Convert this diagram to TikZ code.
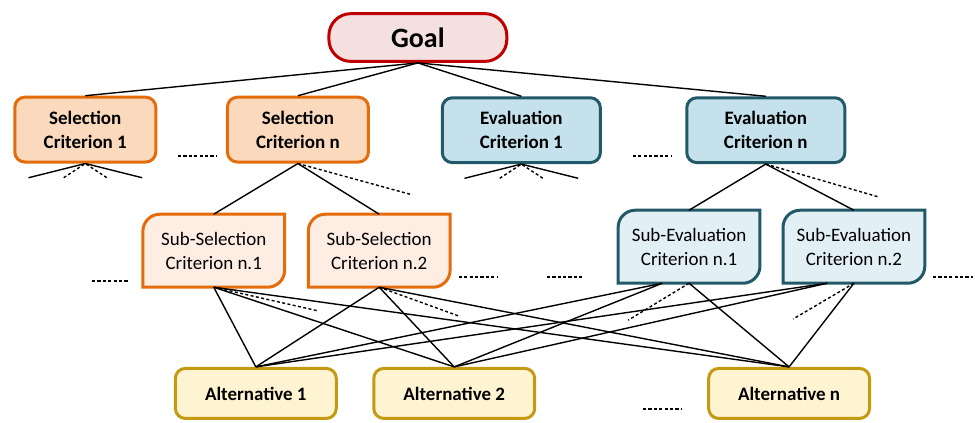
\documentclass[tikz,border=0pt]{standalone}
\usepackage{fontspec}
\setmainfont{Carlito}
\usetikzlibrary{backgrounds}

\definecolor{goalred}{HTML}{C00000}
\definecolor{goalfill}{HTML}{F4E0DF}
\definecolor{selorange}{HTML}{E46C0A}
\definecolor{selfill}{HTML}{FBD9BD}
\definecolor{subselfill}{HTML}{FDEDE2}
\definecolor{evalteal}{HTML}{215968}
\definecolor{evalfill}{HTML}{C4E1EC}
\definecolor{subevalfill}{HTML}{E2F0F6}
\definecolor{altgold}{HTML}{C39A12}
\definecolor{altfill}{HTML}{FFF4D2}

\tikzset{
  goal/.style={draw=goalred, fill=goalfill, line width=1.5pt, rounded corners=11pt,
    minimum width=3.13cm, minimum height=0.84cm, font=\fontsize{14}{16}\selectfont\bfseries},
  selcrit/.style={draw=selorange, fill=selfill, line width=1.5pt, rounded corners=5pt,
    minimum width=2.48cm, minimum height=1.14cm, align=center,
    font=\fontsize{9.5}{12}\selectfont\bfseries},
  evalcrit/.style={selcrit, draw=evalteal, fill=evalfill, minimum width=2.78cm},
  subtext/.style={minimum width=2.48cm, minimum height=1.27cm, align=center,
    font=\fontsize{9.5}{12}\selectfont},
  subsel/.style={draw=selorange, fill=subselfill, line width=1.5pt},
  subeval/.style={draw=evalteal, fill=subevalfill, line width=1.5pt},
  alt/.style={draw=altgold, fill=altfill, line width=1.5pt, rounded corners=5pt,
    minimum width=2.83cm, minimum height=0.88cm, font=\fontsize{9.5}{12}\selectfont\bfseries},
  link/.style={line width=0.7pt},
  dotlink/.style={line width=0.7pt, dash pattern=on 1.5pt off 1.2pt},
  gapdots/.style={line width=0.9pt, dash pattern=on 1.6pt off 1.1pt},
}

\begin{document}
\begin{tikzpicture}
	\useasboundingbox (0,0) rectangle (17.15,7.44);
	% Goal
	\node[goal] (goal) at (7.35,6.78) {Goal};
	% Criteria
	\node[selcrit] (sc1) at (1.50,5.16) {Selection\\Criterion 1};
	\node[selcrit] (scn) at (5.24,5.16) {Selection\\Criterion n};
	\node[evalcrit] (ec1) at (9.17,5.15) {Evaluation\\Criterion 1};
	\node[evalcrit] (ecn) at (13.47,5.15) {Evaluation\\Criterion n};
	% Sub-criteria
	\node[subtext] (ss1) at (3.76,3.03) {Sub-Selection\\Criterion n.1};
	\node[subtext] (ss2) at (6.67,3.03) {Sub-Selection\\Criterion n.2};
	\node[subtext] (se1) at (12.12,3.10) {Sub-Evaluation\\Criterion n.1};
	\node[subtext] (se2) at (15.02,3.10) {Sub-Evaluation\\Criterion n.2};
	\begin{scope}[on background layer]
		\foreach \n/\s in {ss1/subsel,ss2/subsel,se1/subeval,se2/subeval}
			\draw[\s] (\n.north east) -- ([yshift=0.3cm]\n.south east)
				arc[start angle=0,end angle=-90,radius=0.3cm] -- (\n.south west)
				-- ([yshift=-0.3cm]\n.north west)
				arc[start angle=180,end angle=90,radius=0.3cm] -- cycle;
	\end{scope}
	% Alternatives
	\node[alt] (alt1) at (4.50,0.52) {Alternative 1};
	\node[alt] (alt2) at (7.99,0.52) {Alternative 2};
	\node[alt] (altn) at (13.88,0.52) {Alternative n};

	% Links
	\foreach \n in {sc1,scn,ec1,ecn}
		\draw[link] (goal.south) -- (\n.north);
	\draw[link] (ss1.north) -- (scn.south) -- (ss2.north);
	\draw[link] (se1.north) -- (ecn.south) -- (se2.north);
	\foreach \n in {sc1,ec1} {
		\coordinate (\n-ll) at ([shift={(-1.0,-0.25)}]\n.south);
		\coordinate (\n-rr) at ([shift={(1.0,-0.25)}]\n.south);
		\coordinate (\n-l) at ([shift={(-0.38,-0.25)}]\n.south);
		\coordinate (\n-r) at ([shift={(0.38,-0.25)}]\n.south);
		\draw[link] (\n-ll) -- (\n.south) -- (\n-rr);
		\draw[dotlink] (\n-l) -- (\n.south) -- (\n-r);
	}
	\coordinate (scn-d) at ([shift={(2.01,-0.55)}]scn.south);
	\coordinate (ecn-d) at ([shift={(1.99,-0.58)}]ecn.south);
	\draw[dotlink] (scn.south) -- (scn-d);
	\draw[dotlink] (ecn.south) -- (ecn-d);
	% Sub-criteria to alternatives
	\foreach \s in {ss1,ss2}
		\foreach \a in {alt1,alt2,altn}
			\draw[link] (\s.south) -- (\a.north);
	\foreach \s in {se1,se2} {
		\draw[link] ([xshift=-0.47cm]\s.south) -- (alt1.north);
		\draw[link] ([xshift=-0.47cm]\s.south) -- (alt2.north);
		\draw[link] (\s.south) -- (altn.north);
	}
	\coordinate (ss1-d) at ([shift={(1.85,-0.42)}]ss1.south);
	\coordinate (ss2-d) at ([shift={(1.41,-0.51)}]ss2.south);
	\coordinate (se1-d) at ([shift={(-1.07,-0.65)}]se1.south);
	\coordinate (se2-d) at ([shift={(-1.07,-0.63)}]se2.south);
	\foreach \s in {ss1,ss2,se1,se2}
		\draw[dotlink] (\s.south) -- (\s-d);
	%Dots
	\draw[gapdots] (3.13,4.70) -- (3.82,4.70);
	\draw[gapdots] (11.13,4.70) -- (11.82,4.70);
	\draw[gapdots] (1.62,2.50) -- (2.27,2.50);
	\draw[gapdots] (8.07,2.57) -- (8.74,2.57);
	\draw[gapdots] (9.62,2.57) -- (10.27,2.57);
	\draw[gapdots] (16.41,2.57) -- (17.11,2.57);
	\draw[gapdots] (11.31,0.25) -- (11.98,0.25);
\end{tikzpicture}
\end{document}
